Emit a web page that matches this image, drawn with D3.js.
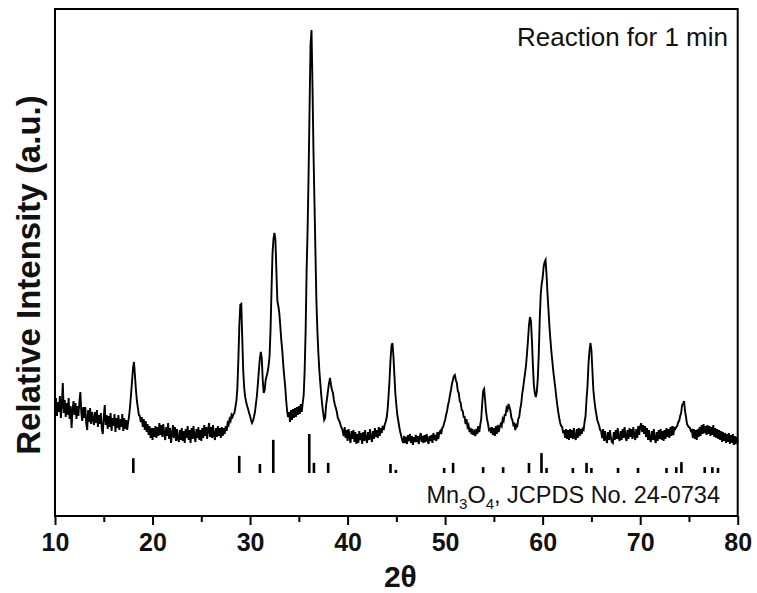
<!DOCTYPE html>
<html>
<head>
<meta charset="utf-8">
<script src="https://cdn.jsdelivr.net/npm/d3@7"></script>
<style>
  html, body { margin: 0; padding: 0; background: #fff; }
  svg { display: block; }
  text { font-family: Arial, "Liberation Sans", sans-serif; fill: #111; }
</style>
</head>
<body>
<svg id="chart" width="757" height="593"></svg>
<script>
// ---------- DATA ----------
const scanStart = 10;    // 2θ of first point
const scanStep = 0.1;    // 2θ step of the scan
const intensity = [
106,118,100,114,104,120,98,112,133,103,
116,99,113,101,118,97,110,88,106,115,
101,113,97,110,100,114,124,103,95,109,
98,109,93,86,106,94,108,92,104,97,
91,104,93,106,89,101,92,103,87,82,
99,111,91,101,87,100,89,103,85,98,
90,102,84,98,88,101,86,97,89,102,
85,98,87,96,86,94,100,110,122,135,
148,154,140,126,115,108,101,100,94,99,
89,97,86,95,84,92,81,90,78,88,
76,88,79,90,78,89,80,93,81,91,
79,92,82,76,89,80,93,77,88,73,
82,91,78,89,75,87,77,74,86,76,
88,75,85,73,87,78,90,76,86,73,
88,77,90,79,74,87,78,89,76,86,
75,88,78,91,80,89,77,87,93,79,
89,78,91,81,76,88,79,90,80,88,
78,89,80,88,82,90,85,93,91,97,
95,101,99,102,103,109,115,128,156,190,
211,212,178,145,128,119,114,110,107,103,
100,96,93,95,99,104,112,120,132,145,
157,164,158,136,123,126,136,140,144,150,
160,186,226,262,277,283,276,245,215,210,
203,190,176,166,152,140,130,116,105,99,
104,94,106,96,107,98,108,99,109,101,
110,102,112,104,113,121,146,186,246,286,
341,406,471,486,431,366,316,266,216,186,
164,146,133,121,111,103,96,98,111,118,
126,133,138,131,126,123,116,111,108,104,
98,96,94,90,88,85,80,89,78,86,
75,87,79,73,85,77,86,74,84,72,
82,73,85,76,83,72,84,75,86,77,
73,84,76,87,78,74,85,77,88,79,
86,78,89,80,88,83,90,86,91,94,
98,106,120,136,156,170,173,160,141,122,
111,101,95,89,84,80,76,73,80,73,
79,72,81,75,82,73,80,71,79,74,
81,74,80,72,79,83,74,80,73,81,
74,82,76,72,80,75,81,73,83,76,
81,75,84,77,83,85,82,88,89,93,
96,101,105,111,115,121,126,132,136,140,
141,136,133,125,123,115,113,106,105,99,
99,92,97,89,91,84,88,82,87,81,
84,80,87,82,90,84,91,97,112,125,
127,116,104,97,92,86,87,83,89,81,
88,80,90,82,91,84,89,92,90,97,
95,101,101,108,106,112,109,105,98,96,
91,92,86,91,90,97,99,107,112,122,
128,136,143,151,163,176,191,199,195,176,
151,131,123,119,124,137,161,196,221,232,
238,249,254,256,241,222,206,189,176,164,
154,144,136,128,119,111,104,98,93,90,
89,83,86,78,87,77,86,76,87,78,
86,77,88,79,76,87,78,88,80,87,
82,87,86,94,100,117,130,152,165,173,
166,146,126,116,108,102,96,93,90,86,
85,78,87,75,85,77,73,84,76,86,
78,74,73,84,76,86,77,88,78,75,
85,76,87,78,89,79,75,86,77,88,
79,87,77,89,80,76,87,78,90,81,
89,93,84,91,82,90,79,88,76,86,
77,74,85,76,87,77,73,84,75,86,
77,87,76,85,75,86,77,88,79,87,
78,89,80,90,81,88,87,89,90,94,
95,100,103,111,112,115,105,99,92,90,
89,88,85,86,78,87,77,86,76,87,
79,89,80,91,82,92,83,90,81,91,
82,90,80,89,81,91,79,88,78,87,
77,86,76,85,74,84,75,83,73,82,
74,83,72,81,73,82,71,80,72,79,
74
];

// Mn3O4 reference (JCPDS 24-0734): positions and relative intensities
const refPos = [18.03, 28.89, 31.01, 32.38, 36.07, 36.55, 38.01, 44.40, 44.95, 49.90,
                50.82, 53.90, 55.95, 58.60, 59.88, 60.40, 63.10, 64.50, 65.00, 67.73,
                69.78, 72.70, 73.70, 74.23, 76.62, 77.40, 77.98];
const refInt = [38, 44, 23, 85, 100, 26, 26, 23, 8, 13,
                26, 15, 15, 26, 51, 13, 13, 26, 13, 13,
                13, 13, 15, 28, 15, 15, 13];

const xTicks = [10, 20, 30, 40, 50, 60, 70, 80];
const xMinorTicks = [15, 25, 35, 45, 55, 65, 75];
const xLabel = "2θ";
const yLabel = "Relative Intensity (a.u.)";
const sampleLabel = "Reaction for 1 min";

// ---------- LAYOUT ----------
const svg = d3.select("#chart");
const L = 55, R = 737.7, T = 9, B = 516;

const x = d3.scaleLinear().domain([10, 80]).range([L, R]);
const y = d3.scaleLinear().domain([0, 507]).range([B, T]);
// reference stick scale (relative intensity 0..100)
const yRef = d3.scaleLinear().domain([0, 100]).range([473, 434]);

const pts = intensity.map((v, i) => [scanStart + i * scanStep, v]);

// curve
svg.append("path")
  .datum(pts)
  .attr("fill", "none")
  .attr("stroke", "#000")
  .attr("stroke-width", 1.9)
  .attr("stroke-linejoin", "miter")
  .attr("d", d3.line().x(d => x(d[0])).y(d => y(d[1])));

// reference sticks
svg.append("g").selectAll("rect")
  .data(refPos.map((p, i) => [p, refInt[i]]))
  .join("rect")
  .attr("x", d => x(d[0]) - 1.3)
  .attr("width", 2.6)
  .attr("y", d => yRef(d[1]))
  .attr("height", d => yRef(0) - yRef(d[1]))
  .attr("fill", "#000");

// frame
svg.append("rect")
  .attr("x", L).attr("y", T)
  .attr("width", R - L).attr("height", B - T)
  .attr("fill", "none").attr("stroke", "#000").attr("stroke-width", 2);

// x axis (major ticks with labels)
const ax = svg.append("g")
  .attr("transform", `translate(0,${B})`)
  .call(d3.axisBottom(x).tickValues(xTicks).tickSize(9).tickPadding(8).tickFormat(d3.format("d")));
ax.select(".domain").remove();
ax.selectAll(".tick line").attr("stroke", "#000").attr("stroke-width", 2);
ax.selectAll(".tick text")
  .attr("font-family", "Arial, 'Liberation Sans', sans-serif")
  .attr("font-size", 25).attr("font-weight", "bold").attr("fill", "#111");

// minor ticks
const axm = svg.append("g")
  .attr("transform", `translate(0,${B})`)
  .call(d3.axisBottom(x).tickValues(xMinorTicks).tickSize(6).tickFormat(""));
axm.select(".domain").remove();
axm.selectAll(".tick line").attr("stroke", "#000").attr("stroke-width", 2);

// axis titles
svg.append("text")
  .attr("x", (L + R) / 2 + 4).attr("y", 587)
  .attr("text-anchor", "middle")
  .attr("font-size", 30).attr("font-weight", "bold")
  .text(xLabel);

svg.append("text")
  .attr("transform", `translate(40,275) rotate(-90)`)
  .attr("text-anchor", "middle")
  .attr("font-size", 33).attr("font-weight", "bold")
  .text(yLabel);

// annotations
svg.append("text")
  .attr("x", 728).attr("y", 46)
  .attr("text-anchor", "end")
  .attr("font-size", 26)
  .text(sampleLabel);

const ref = svg.append("text")
  .attr("x", 720).attr("y", 503)
  .attr("text-anchor", "end")
  .attr("font-size", 23.5)
  .attr("fill", "#222");
ref.append("tspan").text("Mn");
ref.append("tspan").attr("font-size", 15).attr("dy", 6).text("3");
ref.append("tspan").attr("dy", -6).text("O");
ref.append("tspan").attr("font-size", 15).attr("dy", 6).text("4");
ref.append("tspan").attr("dy", -6).text(", JCPDS No. 24-0734");
</script>
</body>
</html>
